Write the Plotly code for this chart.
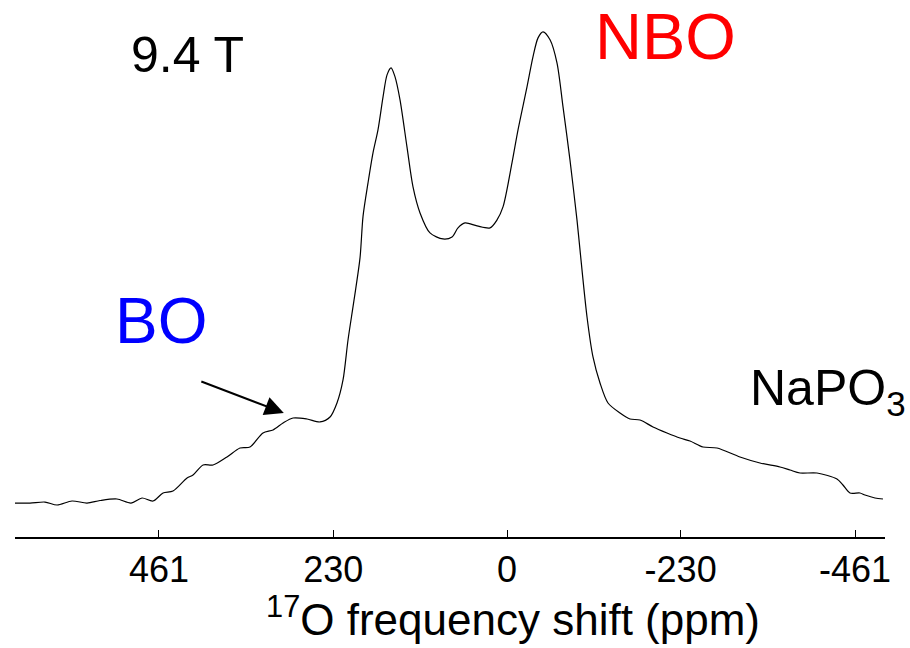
import plotly.graph_objects as go

# 17O NMR spectrum of NaPO3 at 9.4 T
shift_ppm = [651.7, 631.8, 611.9, 596.0, 576.2, 556.3, 539.1, 516.6, 498.0, 483.4,
             468.9, 455.6, 442.4, 423.8, 415.9, 402.6, 389.4, 370.9, 353.6, 340.4,
             323.2, 309.9, 296.7, 283.4, 264.9, 247.7, 234.4, 225.2, 217.2, 210.6,
             202.6, 194.7, 190.7, 184.1, 177.5, 170.9, 164.2, 158.9, 153.6, 148.3,
             141.7, 132.5, 124.5, 115.2, 102.0, 84.8, 72.8, 64.9, 55.6, 39.7,
             22.5, 13.2, 5.3, -6.6, -14.6, -26.5, -34.4, -41.1, -47.7, -57.0,
             -66.2, -74.2, -83.4, -92.7, -96.7, -106.0, -113.9, -123.2, -133.8, -149.7,
             -162.9, -176.2, -193.4, -211.9, -229.1, -242.4, -259.6, -278.1, -308.6, -335.1,
             -361.6, -374.8, -388.1, -410.6, -437.1, -445.0, -454.3, -467.5, -474.2, -487.4,
             -498.0]
intensity = [0.42, 0.42, 0.63, 0.0, 0.85, 0.42, 0.95, 1.27, 0.42, 1.48,
             0.85, 2.54, 2.96, 5.71, 6.34, 8.46, 8.46, 10.15, 12.05, 12.26,
             15.22, 15.86, 17.33, 18.39, 18.18, 17.55, 18.60, 21.56, 26.43, 34.88,
             43.34, 52.22, 61.0, 68.07, 74.41, 79.28, 86.25, 90.90, 92.38, 90.48,
             85.62, 75.68, 67.23, 61.73, 57.50, 56.23, 56.66, 58.56, 59.61, 58.98,
             58.56, 60.25, 63.0, 72.30, 79.28, 88.37, 94.71, 98.72, 100.0, 98.31,
             93.44, 84.14, 72.93, 60.25, 53.91, 39.74, 31.29, 25.79, 21.56, 19.45,
             18.18, 17.97, 16.49, 15.22, 14.16, 13.53, 12.26, 12.05, 10.15, 8.88,
             8.03, 7.40, 6.76, 6.76, 5.50, 4.23, 2.54, 2.54, 2.11, 1.48,
             1.27]

tick_values = [461, 230, 0, -230, -461]
tick_labels = ["461", "230", "0", "-230", "-461"]

FONT = "Liberation Sans, Arial, sans-serif"

fig = go.Figure()
fig.add_trace(go.Scatter(
    x=shift_ppm, y=intensity, mode="lines",
    line=dict(color="black", width=1.2, shape="spline", smoothing=0.8),
    hoverinfo="skip", showlegend=False,
))

fig.update_layout(
    width=910, height=648,
    margin=dict(l=15, r=25, t=20, b=111),
    paper_bgcolor="white", plot_bgcolor="white",
    font=dict(family=FONT, color="black"),
    xaxis=dict(
        range=[651.7, -500.7],
        tickmode="array", tickvals=tick_values, ticktext=tick_labels,
        ticks="inside", ticklen=7, tickwidth=1, tickcolor="black",
        showline=True, linecolor="black", linewidth=2,
        showgrid=False, zeroline=False,
        tickfont=dict(family=FONT, size=36, color="black"),
    ),
    yaxis=dict(range=[-6.76, 102.5], visible=False, showgrid=False, zeroline=False),
)

def add_text(text, x, y, size, color, xanchor="left"):
    fig.add_annotation(text=text, x=x, y=y, xref="paper", yref="paper",
                       xanchor=xanchor, yanchor="middle", showarrow=False,
                       font=dict(family=FONT, size=size, color=color))

add_text("9.4 T", 0.131, 0.933, 50, "black")
add_text("NBO", 0.664, 0.969, 65, "#ff0000")
add_text("BO", 0.1126, 0.418, 64, "#0000ff")
add_text("NaPO<sub>3</sub>", 0.843, 0.282, 50, "black")
add_text("<sup>17</sup>O frequency shift (ppm)", 0.572, -0.153, 44, "black", xanchor="center")

fig.add_annotation(text="", x=0.309, y=0.240, xref="paper", yref="paper",
                   showarrow=True, ax=-84, ay=-32, arrowhead=2, arrowsize=1.9,
                   arrowwidth=2, arrowcolor="black")

fig.write_html("out.html")
